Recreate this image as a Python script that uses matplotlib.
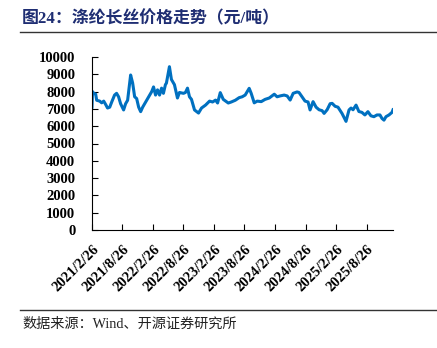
import matplotlib
matplotlib.use("Agg")
import matplotlib.pyplot as plt
import pandas as pd

dates = [
    "2021-02-26", "2021-03-01", "2021-03-08", "2021-03-20", "2021-03-26", "2021-04-13",
    "2021-04-25", "2021-05-07", "2021-05-19", "2021-05-30", "2021-06-12", "2021-06-24",
    "2021-07-11", "2021-07-23", "2021-08-04", "2021-08-16", "2021-09-03", "2021-09-15",
    "2021-09-27", "2021-10-15", "2021-10-27", "2021-11-08", "2021-11-20", "2021-12-02",
    "2021-12-14", "2021-12-26", "2022-01-13", "2022-01-31", "2022-02-18", "2022-03-01",
    "2022-03-13", "2022-03-25", "2022-04-06", "2022-04-18", "2022-04-29", "2022-05-11",
    "2022-05-17", "2022-06-04", "2022-06-16", "2022-07-04", "2022-07-22", "2022-08-03",
    "2022-08-27", "2022-09-08", "2022-09-20", "2022-10-02", "2022-10-14", "2022-11-01",
    "2022-11-25", "2022-12-13", "2023-01-06", "2023-01-30", "2023-02-17", "2023-03-07",
    "2023-03-19", "2023-04-04", "2023-04-22", "2023-05-22", "2023-06-09", "2023-07-03",
    "2023-07-26", "2023-08-13", "2023-08-31", "2023-09-24", "2023-10-06", "2023-10-24",
    "2023-11-11", "2023-12-05", "2023-12-28", "2024-01-22", "2024-02-21", "2024-03-09",
    "2024-03-27", "2024-04-20", "2024-05-08", "2024-05-26", "2024-06-13", "2024-07-06",
    "2024-07-18", "2024-08-05", "2024-08-23", "2024-09-10", "2024-09-22", "2024-10-10",
    "2024-10-28", "2024-11-15", "2024-12-03", "2024-12-15", "2025-01-02", "2025-01-20",
    "2025-02-01", "2025-02-19", "2025-03-08", "2025-04-01", "2025-04-25", "2025-05-13",
    "2025-05-25", "2025-06-06", "2025-06-24", "2025-07-11", "2025-07-29", "2025-08-16",
    "2025-09-03", "2025-09-21", "2025-10-09", "2025-10-27", "2025-11-14", "2025-11-26",
    "2025-12-08", "2025-12-20", "2026-01-07", "2026-01-25", "2026-01-31",
]
prices = [
    7100, 8000, 7900, 7850, 7500, 7450,
    7350, 7450, 7250, 7050, 7100, 7400,
    7800, 7900, 7700, 7300, 6940, 7300,
    7500, 8960, 8500, 7700, 7600, 7100,
    6840, 7100, 7400, 7700, 8000, 8270,
    7800, 8100, 7800, 8200, 7900, 8400,
    8490, 9440, 8700, 8400, 7630, 7950,
    7900, 7950, 8200, 7700, 7550, 6940,
    6760, 7050, 7220, 7450, 7400, 7510,
    7340, 7940, 7550, 7340, 7400, 7500,
    7650, 7700, 7800, 8190, 7900, 7350,
    7450, 7420, 7550, 7630, 7850, 7700,
    7750, 7800, 7750, 7510, 7900, 7980,
    7950, 7700, 7450, 7400, 6940, 7420,
    7100, 6950, 6900, 6740, 6950, 7300,
    7320, 7150, 7100, 6740, 6280, 6940,
    7050, 6950, 7220, 6850, 6800, 6650,
    6840, 6600, 6550, 6650, 6650, 6450,
    6350, 6550, 6650, 6800, 6950,
]
tick_dates = ["2021-02-26", "2021-08-26", "2022-02-26", "2022-08-26", "2023-02-26",
              "2023-08-26", "2024-02-26", "2024-08-26", "2025-02-26", "2025-08-26"]
tick_labels = ["2021/2/26", "2021/8/26", "2022/2/26", "2022/8/26", "2023/2/26",
               "2023/8/26", "2024/2/26", "2024/8/26", "2025/2/26", "2025/8/26"]
y_ticks = [0, 1000, 2000, 3000, 4000, 5000, 6000, 7000, 8000, 9000, 10000]

title = "图24：涤纶长丝价格走势（元/吨）"
source = "数据来源：Wind、开源证券研究所"

d = pd.to_datetime(dates)
td = pd.to_datetime(tick_dates)

fig = plt.figure(figsize=(4.37, 3.48), dpi=100)
ax = fig.add_axes([92/437, 1-230/348, (393-92)/437, (230-57)/348])
ax.plot(d, prices, color="#0070C0", lw=2.2, solid_joinstyle="round")
ax.set_xlim(d[0], d[-1])
ax.set_ylim(0, 10000)
ax.set_yticks(y_ticks)
ax.set_yticklabels([str(v) for v in y_ticks], fontfamily="Liberation Serif",
                   fontweight="bold", fontsize=10.5)
ax.set_xticks(td)
ax.set_xticklabels(tick_labels, rotation=45, ha="right", rotation_mode="anchor",
                   fontfamily="Liberation Serif", fontweight="bold", fontsize=10.5)
ax.tick_params(direction="in", length=4, width=0.8, colors="black")
ax.tick_params(axis="y", pad=12)
ax.tick_params(axis="x", pad=9)
for s in ["top", "right"]:
    ax.spines[s].set_visible(False)
for s in ["left", "bottom"]:
    ax.spines[s].set_linewidth(0.8)

fig.text(22/437, 1-19/348, title, fontsize=12.2, fontweight="bold", color="#1f2e73",
         family=["Liberation Serif", "Noto Sans CJK SC"], va="center", ha="left")
fig.add_artist(plt.Line2D([20/437, 1], [1-32/348, 1-32/348], color="#333333", lw=1))
fig.add_artist(plt.Line2D([20/437, 1], [1-310/348, 1-310/348], color="#333333", lw=1))
fig.text(22/437, 1-324/348, source, fontsize=10.2, color="#222222",
         family=["Liberation Serif", "Noto Sans CJK SC"], va="center", ha="left")

fig.savefig("out.png", dpi=100)
